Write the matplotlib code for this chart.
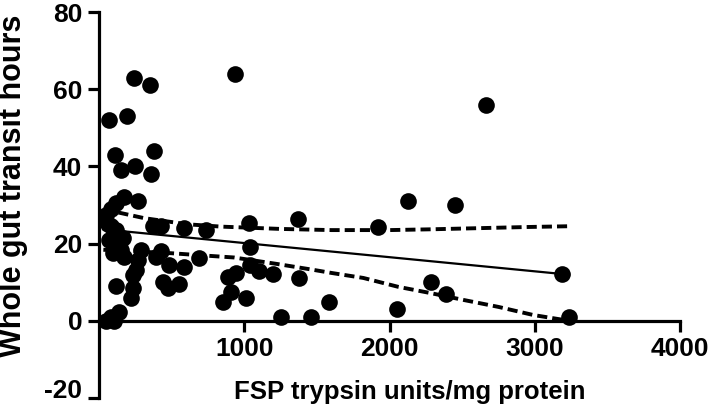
import matplotlib
matplotlib.use("Agg")
import matplotlib.pyplot as plt

plt.rcParams['font.family'] = ['Liberation Sans', 'DejaVu Sans']
plt.rcParams['font.weight'] = 'bold'
plt.rcParams['axes.unicode_minus'] = False

# Scatter data (FSP trypsin units/mg protein, whole gut transit hours)
trypsin = [70, 190, 240, 350, 110, 378, 150, 247, 357, 935, 2667,
           172, 268, 117, 82, 30, 48, 82, 117, 69, 103, 165, 151, 172,
           289, 268, 254, 234, 130, 140, 95, 60,
           117, 234, 220, 137, 82, 48, 100,
           371, 426, 584, 740, 426, 392, 481, 584, 687, 440, 474, 550,
           852, 907, 1010, 886, 942, 1038, 1031, 1038, 1100, 1196, 1368,
           1374, 1251, 1457, 1581,
           1924, 2124, 2454, 2289, 2392, 2055, 3189, 3237]
transit = [52, 53, 63, 61, 43, 44, 39, 40, 38, 64, 56,
           32, 31, 30.5, 29, 27, 27.5, 24.5, 23.5, 21, 19.5, 21.5, 18.3, 16.5,
           18.3, 15.7, 13.2, 11.9, 22, 20, 17.5, 25,
           9, 8.5, 6, 2.3, 1, 0, 0,
           24.5, 24.5, 24, 23.5, 18, 16.5, 14.5, 14, 16.3, 10, 8.5, 9.5,
           5, 7.5, 6, 11.4, 12.4, 19, 25.3, 14.5, 13, 12.2, 26.3,
           11, 1, 1, 5,
           24.2, 31, 30, 10, 7, 3, 12, 1]

# Regression line and 95% confidence band
fit_x = [30, 3237]
fit_y = [23.7, 11.95]
upper_x = [30, 140, 310, 610, 840, 1250, 1600, 2000, 2280, 2950, 3237]
upper_y = [28.6, 28.0, 26.6, 25.0, 24.4, 23.8, 23.5, 23.5, 23.7, 24.3, 24.5]
lower_x = [30, 500, 770, 930, 1230, 1460, 1600, 1820, 2060, 2280, 2510, 2750, 2990, 3237]
lower_y = [18.4, 17.5, 16.8, 16.4, 14.7, 13.3, 12.4, 11.1, 8.8, 7.2, 5.4, 3.6, 1.5, 0.0]

x_ticks = [1000, 2000, 3000, 4000]
y_ticks = [-20, 0, 20, 40, 60, 80]

fig = plt.figure(figsize=(7.11, 4.09), dpi=100)
ax = fig.add_axes([99/711, 11/409, 581/711, 386/409])

ax.scatter(trypsin, transit, s=12**2, color='black', zorder=3, linewidths=0)
ax.plot(fit_x, fit_y, color='black', lw=1.6, zorder=2)
ax.plot(upper_x, upper_y, color='black', lw=2.8, linestyle=(0, (2.6, 1.3)), zorder=2)
ax.plot(lower_x, lower_y, color='black', lw=2.8, linestyle=(0, (2.6, 1.3)), zorder=2)

ax.set_xlim(0, 4000)
ax.set_ylim(-20, 80)
ax.set_xticks(x_ticks)
ax.set_yticks(y_ticks)

for s in ['top', 'right']:
    ax.spines[s].set_visible(False)
ax.spines['bottom'].set_position(('data', 0))
for s in ['left', 'bottom']:
    ax.spines[s].set_linewidth(2.3)
ax.spines['left'].set_capstyle('projecting')
ax.tick_params(axis='both', direction='out', length=8, width=2.3,
               labelsize=19, pad=4)
for lab in ax.get_xticklabels() + ax.get_yticklabels():
    lab.set_fontweight('bold')
ax.get_yticklabels()[0].set_va('baseline')
ax.get_yticklabels()[0].set_y(-20.7)

fig.text(410/711, 10/409, 'FSP trypsin units/mg protein', ha='center',
         va='baseline', fontsize=18.5, fontweight='bold')
fig.text(13.5/711, 1 - 186/409, 'Whole gut transit hours', ha='center',
         va='center', rotation=90, fontsize=22, fontweight='bold')

fig.savefig('out.png', dpi=100)
